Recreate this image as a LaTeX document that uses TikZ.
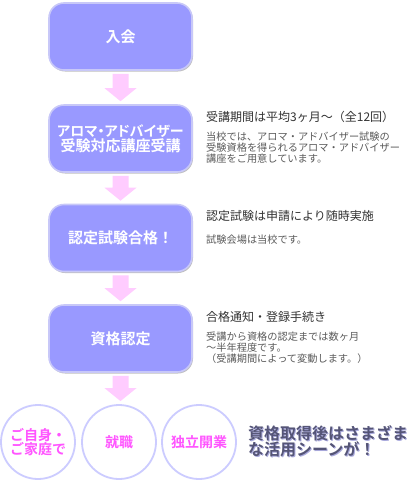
\documentclass[tikz,border=0pt]{standalone}
\usepackage{fontspec}
\setmainfont{Noto Sans CJK JP}[BoldFont={Noto Sans CJK JP Bold}]
\usetikzlibrary{calc,shadows}
\definecolor{boxfill}{HTML}{9999FF}
\definecolor{boxline}{HTML}{C8C8F8}
\definecolor{arrowpink}{HTML}{FFCCFF}
\definecolor{headgray}{HTML}{333333}
\definecolor{bodygray}{HTML}{5A5A5A}
\definecolor{circline}{HTML}{CCCCFF}
\definecolor{circtext}{HTML}{FF55FF}
\definecolor{bigtext}{HTML}{555577}
\definecolor{bigshadow}{HTML}{AAAADD}
\tikzset{
  stepbox/.style={draw=boxline, line width=1.6pt, fill=boxfill, rounded corners=15pt,
    minimum width=143pt, minimum height=67pt, inner sep=0pt, align=center,
    text=white, font=\bfseries\fontsize{15}{16}\selectfont,
    drop shadow={shadow xshift=1pt, shadow yshift=-1.5pt, fill=black, opacity=0.25}},
  arrowfill/.style={fill=arrowpink},
  headtext/.style={anchor=west, inner sep=0pt, text=headgray, font=\fontsize{12}{13}\selectfont},
  bodytext/.style={anchor=north west, inner sep=0pt, align=left, text=bodygray, font=\fontsize{10.2}{10.8}\selectfont},
  usecircle/.style={circle, draw=circline, line width=1.8pt, minimum size=74pt, inner sep=0pt,
    align=left, text=circtext, font=\bfseries\fontsize{14}{13.5}\selectfont},
  bigtext/.style={anchor=north west, inner sep=0pt, align=left, font=\bfseries\fontsize{16}{16.5}\selectfont}
}
\newcommand\pinkarrow[2]{%
  \fill[arrowfill] let \p1=(#1.south), \p2=(#2.north) in
   (\x1-8pt,\y1-3pt) -- (\x1+8pt,\y1-3pt) -- (\x1+8pt,\y2+16pt) -- (\x1+16pt,\y2+16pt)
   -- (\x1,\y2+3pt) -- (\x1-16pt,\y2+16pt) -- (\x1-8pt,\y2+16pt) -- cycle;}
\begin{document}
\begin{tikzpicture}[x=1pt,y=-1pt]
\useasboundingbox (0,0) rectangle (411,480);
\fill[white] (0,0) rectangle (411,480);
\node[stepbox] (b1) at (120.5,36.5) {入会};
\node[stepbox] (b2) at (120.5,138.5) {{\fontsize{14}{15}\selectfont\addfontfeatures{RawFeature=+palt}アロマ・アドバイザー}\\[-1pt]受験対応講座受講};
\node[stepbox] (b3) at (120.5,238) {認定試験合格！};
\node[stepbox] (b4) at (120.5,338.5) {資格認定};
\node[usecircle] (c1) at (38,442) {ご自身・\\ご家庭で};
\node[usecircle] (c2) at (119,442) {就職};
\node[usecircle] (c3) at (199,442) {独立開業};
\pinkarrow{b1}{b2}
\pinkarrow{b2}{b3}
\pinkarrow{b3}{b4}
\pinkarrow{b4}{c2}
\node[headtext] (h1) at (206,117) {受講期間は平均3ヶ月～（全12回）};
\node[bodytext] (t1) at (206,132) {当校では、アロマ・アドバイザー試験の\\受験資格を得られるアロマ・アドバイザー\\講座をご用意しています。};
\node[headtext] (h2) at (206,216) {認定試験は申請により随時実施};
\node[bodytext] (t2) at (206,235) {試験会場は当校です。};
\node[headtext] (h3) at (206,317) {合格通知・登録手続き};
\node[bodytext] (t3) at (206,332) {受講から資格の認定までは数ヶ月\\～半年程度です。\\（受講期間によって変動します。）};
\node[bigtext, text=bigshadow] (s1) at (249,426) {資格取得後はさまざま\\な活用シーンが！};
\node[bigtext, text=bigtext] (s0) at (248,425) {資格取得後はさまざま\\な活用シーンが！};
\end{tikzpicture}
\end{document}
